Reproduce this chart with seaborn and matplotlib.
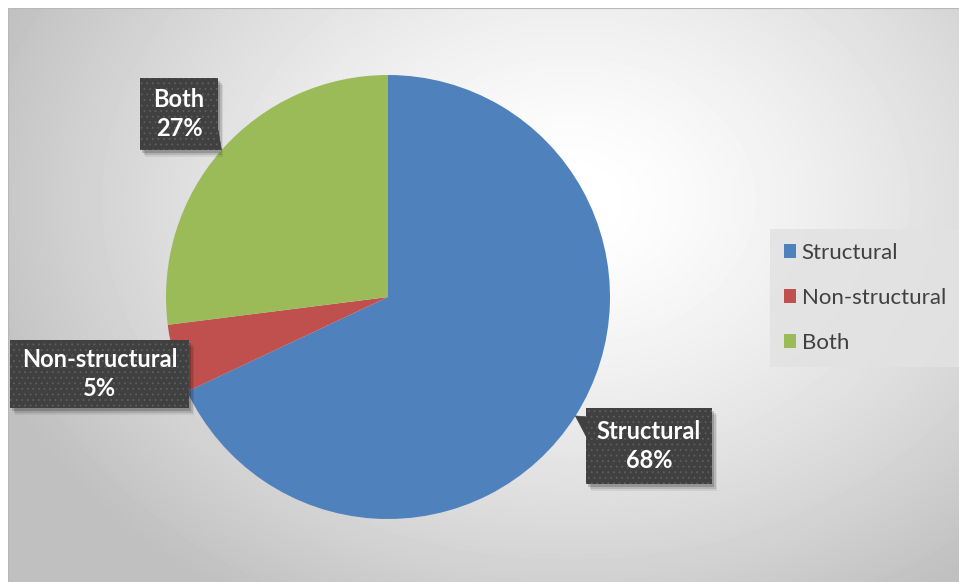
import numpy as np
import matplotlib
matplotlib.use("Agg")
import matplotlib.pyplot as plt
import seaborn as sns
from matplotlib.patches import Rectangle, Polygon
from matplotlib.lines import Line2D

# Share of measures by type
categories = ["Structural", "Non-structural", "Both"]
shares = [68, 5, 27]
colors = ["#4F81BD", "#C0504D", "#9BBB59"]

sns.set_style("white")
plt.rcParams["font.family"] = ["Lato", "DejaVu Sans"]
plt.rcParams["hatch.linewidth"] = 0.6

W, H = 959, 582
fig = plt.figure(figsize=(W / 100, H / 100), dpi=100)
fig.patch.set_facecolor("white")

# Chart area with a soft radial gradient
bg = fig.add_axes([8 / W, 0, (W - 8) / W, (H - 8) / H])
yy, xx = np.mgrid[8:H, 8:W].astype(float)
d = np.sqrt(((xx - 570) / 600) ** 2 + ((yy - 200) / 460) ** 2)
shade = np.clip(256 - 62 * d ** 1.4, 192, 255)
bg.imshow(shade, cmap="gray", vmin=0, vmax=255, aspect="auto",
          extent=(0, 1, 0, 1), interpolation="bilinear")
bg.set_xlim(0, 1)
bg.set_ylim(0, 1)
bg.add_line(Line2D([0, 0, 1], [0, 1, 1], transform=bg.transAxes,
                   color="#b8b8b8", linewidth=1.5))
bg.axis("off")

# Pie
R_PX, CX, CY = 222, 388, 297
ax = fig.add_axes([(CX - R_PX) / W, (H - CY - R_PX) / H, 2 * R_PX / W, 2 * R_PX / H])
wedges, _ = ax.pie(shares, colors=colors, startangle=90, counterclock=False,
                   wedgeprops=dict(linewidth=0))
ax.set_xlim(-1, 1)
ax.set_ylim(-1, 1)
ax.set_aspect("equal")
ax.axis("off")


def px(x, y):
    """Pixel position on the canvas -> pie data coordinates."""
    return (x - CX) / R_PX, (CY - y) / R_PX


# Callout boxes (left, top, right, bottom in canvas pixels)
boxes = {
    "Structural": (586, 408, 712, 484),
    "Non-structural": (10, 340, 189, 408),
    "Both": (140, 78, 218, 150),
}

sh = 3 / R_PX
for w, name, share in zip(wedges, categories, shares):
    mid = np.deg2rad((w.theta1 + w.theta2) / 2)
    tip = np.array([np.cos(mid), np.sin(mid)])
    x0, y0 = px(boxes[name][0], boxes[name][3])
    x1, y1 = px(boxes[name][2], boxes[name][1])
    bw, bh = x1 - x0, y1 - y0

    # drop shadow
    for k, a in [(1.0, 0.18), (1.6, 0.12), (2.2, 0.07)]:
        ax.add_patch(Rectangle((x0 + sh * k * 0.8, y0 - sh * k), bw, bh,
                               facecolor="black", alpha=a, linewidth=0,
                               clip_on=False, zorder=3))

    # pointer toward the wedge
    inside = x0 <= tip[0] <= x1 and y0 <= tip[1] <= y1
    if not inside:
        cx, cy = np.clip(tip[0], x0, x1), np.clip(tip[1], y0, y1)
        if cx in (x0, x1):
            step = np.sign((y0 + y1) / 2 - cy) * 0.02
            base = [(cx, cy + step * 0.2), (cx, cy + step * 4.5)]
        else:
            step = np.sign((x0 + x1) / 2 - cx) * 0.02
            base = [(cx + step * 0.2, cy), (cx + step * 4.5, cy)]
        ax.add_patch(Polygon([tuple(tip), base[0], base[1]], closed=True,
                             facecolor="#404040", edgecolor="#404040",
                             linewidth=0.5, clip_on=False, zorder=4))

    ax.add_patch(Rectangle((x0, y0), bw, bh, facecolor="#404040",
                           edgecolor="#5e5e5e", hatch="...", linewidth=0,
                           clip_on=False, zorder=5))
    ax.text(x0 + bw / 2, y0 + bh / 2, f"{name}\n{share}%", ha="center",
            va="center", color="white", fontsize=17, fontweight="bold",
            linespacing=1.3, zorder=6)

# Legend
leg = fig.legend(wedges, categories, loc="upper left",
                 bbox_to_anchor=(770 / W, 1 - 229 / H), frameon=True,
                 fancybox=False, facecolor="#e2e2e2", edgecolor="none",
                 framealpha=0.85, fontsize=16, handlelength=0.55,
                 handleheight=0.55, handletextpad=0.25, labelspacing=1.13,
                 borderpad=0.62, borderaxespad=0, labelcolor="#404040")

fig.savefig("out.png", dpi=100)
